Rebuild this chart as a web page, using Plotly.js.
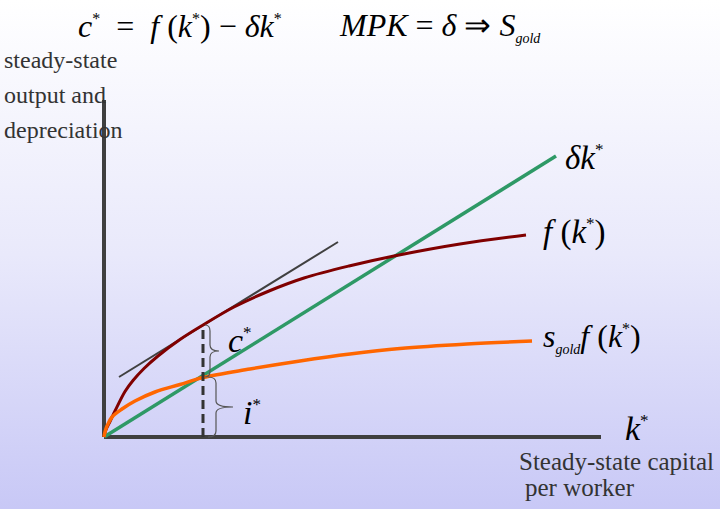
<!DOCTYPE html>
<html>
<head>
<meta charset="utf-8">
<script src="https://cdn.plot.ly/plotly-3.0.1.min.js"></script>
<style>
  html, body { margin: 0; padding: 0; }
  body { width: 720px; height: 509px; background: linear-gradient(to bottom, #ffffff 0%, #e9e9fb 50%, #c8c8f6 100%); }
  #chart { width: 720px; height: 509px; }
</style>
</head>
<body>
<div id="chart"></div>
<script>
// ---- data ----
// capital per worker (k) and production f(k)
const kF   = [0, 1, 3, 6, 11, 21, 29, 40, 54, 76, 99, 130, 165, 200, 245, 290, 356, 422];
const fVal = [0, 4.5, 9.5, 15.5, 26, 45.5, 56.5, 68.5, 81, 97.5, 112, 130, 146, 159, 171, 181, 193, 202];
// investment s_gold * f(k)
const kS   = [0, 1, 3, 8, 18, 31, 51, 76, 99, 146, 196, 246, 296, 363, 428];
const sVal = [0, 5, 11, 20, 28, 36, 45, 52.5, 59.5, 68, 76, 83, 88.5, 93, 96];
// depreciation line delta * k
const kD   = [0, 452];
const dVal = [0, 281];
// tangent line with slope MPK = delta at the golden-rule k
const kT   = [15, 234];
const tVal = [60, 195];
// golden-rule steady state
const kGold = 99;
const fGold = 112;
const iGold = 60;
// axis extents
const kMax = 497;
const yMax = 337;

const serif = 'Liberation Serif, Times New Roman, serif';
const axisColor = '#3f3f3f';

const traces = [
  {x: kT, y: tVal, mode: 'lines', line: {color: '#404040', width: 2}, hoverinfo: 'skip'},
  {x: kD, y: dVal, mode: 'lines', line: {color: '#2e9966', width: 3.5}, hoverinfo: 'skip'},
  {x: kF, y: fVal, mode: 'lines', line: {color: '#800000', width: 3, shape: 'spline', smoothing: 1}, hoverinfo: 'skip'},
  {x: kS, y: sVal, mode: 'lines', line: {color: '#ff6600', width: 3.5, shape: 'spline', smoothing: 1}, hoverinfo: 'skip'},
  {x: [kGold, kGold], y: [0, fGold], mode: 'lines', line: {color: '#333333', width: 3, dash: '9px,5px'}, hoverinfo: 'skip'}
];

function brace(x, y0, y1, de, dv, dt, r) {
  const xe = x + de, xv = x + dv, xt = x + dt, ym = (y0 + y1) / 2;
  return `M ${xe},${y1} Q ${xv},${y1} ${xv},${y1 - r} L ${xv},${ym + r} Q ${xv},${ym} ${xt},${ym} ` +
         `Q ${xv},${ym} ${xv},${ym - r} L ${xv},${y0 + r} Q ${xv},${y0} ${xe},${y0}`;
}

const shapes = [
  {type: 'line', xref: 'x', yref: 'y', x0: 0, x1: 0, y0: 0, y1: yMax, line: {color: axisColor, width: 4}, layer: 'below'},
  {type: 'line', xref: 'x', yref: 'y', x0: 0, x1: kMax, y0: 0, y1: 0, line: {color: axisColor, width: 4}, layer: 'below'},
  {type: 'path', xref: 'x', yref: 'y', path: brace(kGold, iGold, fGold, 2, 7, 16, 6), line: {color: '#555555', width: 1.2}},
  {type: 'path', xref: 'x', yref: 'y', path: brace(kGold, 0, iGold, 5, 13, 30, 6), line: {color: '#555555', width: 1.2}}
];

const W = 720, H = 509;
function ann(text, px, py, size, color, anchor) {
  return {
    text: text, xref: 'paper', yref: 'paper', x: px / W, y: 1 - py / H,
    xanchor: anchor || 'left', yanchor: 'middle', showarrow: false,
    font: {family: serif, size: size, color: color || '#000000'}
  };
}
const sp = '\u00A0';
function star(size) { return '<sup><span style="font-size:' + Math.round(size * 0.5) + 'px">*</span></sup>'; }
const gold = '<sub><span style="font-size:14px"><i>gold</i></span></sub>';
const annotations = [
  ann('<i>c</i>' + star(32) + sp + sp + '=' + sp + sp + '<i>f</i>' + sp + '(<i>k</i>' + star(32) + ')' + sp + '−' + sp + '<i>δk</i>' + star(32), 180, 26, 32, '#000000', 'center'),
  ann('<i>MPK</i>' + sp + '=' + sp + '<i>δ</i>' + sp + '⇒' + sp + '<i>S</i>' + gold, 440, 26, 32, '#000000', 'center'),
  ann('steady-state', 2, 60, 24, '#333333'),
  ann('output and', 2, 95, 24, '#333333'),
  ann('depreciation', 2, 130, 24, '#333333'),
  ann('Steady-state capital', 517, 461, 25, '#333333'),
  ann('per worker', 523, 487, 25, '#333333'),
  ann('<i>k</i>' + star(34), 623, 428, 34),
  ann('<i>δk</i>' + star(33), 563, 158, 33),
  ann('<i>f</i>' + sp + '(<i>k</i>' + star(33) + ')', 541, 233, 33),
  ann('<i>s</i>' + gold + '<i>f</i>' + sp + '(<i>k</i>' + star(32) + ')', 541, 337, 32),
  ann('<i>c</i>' + star(34), 226, 340, 34),
  ann('<i>i</i>' + star(34), 241, 412, 34)
];

const layout = {
  width: W, height: H,
  margin: {l: 0, r: 0, t: 0, b: 0},
  paper_bgcolor: 'rgba(0,0,0,0)',
  plot_bgcolor: 'rgba(0,0,0,0)',
  showlegend: false,
  xaxis: {range: [-104, 616], visible: false, fixedrange: true},
  yaxis: {range: [-72, 437], visible: false, fixedrange: true},
  shapes: shapes,
  annotations: annotations
};

Plotly.newPlot('chart', traces, layout, {displayModeBar: false, staticPlot: true});
</script>
</body>
</html>
